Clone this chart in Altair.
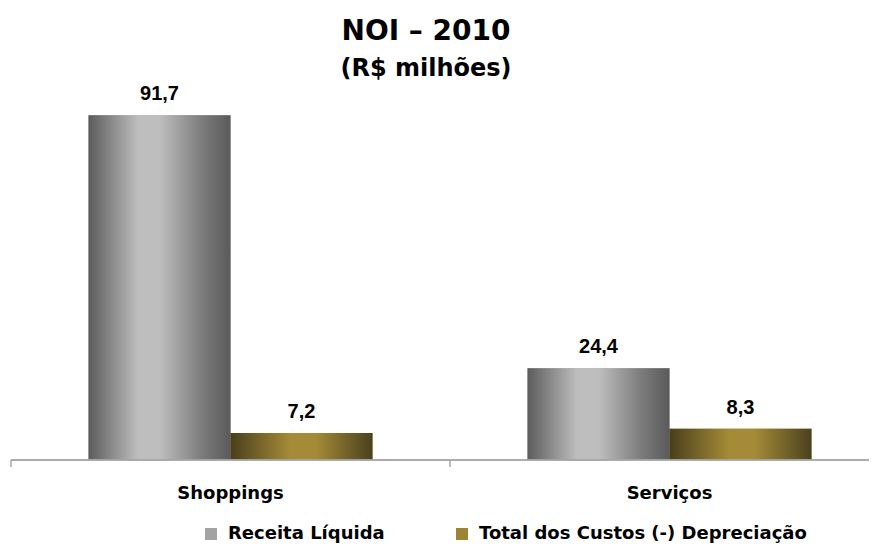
import altair as alt
import pandas as pd

categories = ["Shoppings", "Serviços"]
series = ["Receita Líquida", "Total dos Custos (-) Depreciação"]
receita = [91.7, 24.4]
custos = [7.2, 8.3]
labels_receita = ["91,7", "24,4"]
labels_custos = ["7,2", "8,3"]

rows = []
for i, c in enumerate(categories):
    rows.append({"cat": c, "serie": series[0], "valor": receita[i], "rotulo": labels_receita[i]})
    rows.append({"cat": c, "serie": series[1], "valor": custos[i], "rotulo": labels_custos[i]})
df = pd.DataFrame(rows)
df_cat = pd.DataFrame({"cat": categories})

FONT = "DejaVu Sans"
AXIS_GRAY = "#a6a6a6"

xscale = alt.Scale(domain=categories, paddingInner=0, paddingOuter=0, range=[0, 878])
xaxis = alt.Axis(labelAngle=0, domain=False, ticks=False, tickSize=0, labelPadding=24,
                 labelFont=FONT, labelFontSize=18, labelFontWeight="bold", labelColor="#000000")

x = alt.X("cat:N", sort=categories, title=None, scale=xscale, axis=xaxis)
xo = alt.XOffset("serie:N", sort=series,
                 scale=alt.Scale(domain=series, paddingInner=0, paddingOuter=0.546))
y = alt.Y("valor:Q", scale=alt.Scale(domain=[0, 100]), axis=None)

base = alt.Chart(df).encode(x=x, xOffset=xo, y=y)

legend_bars = base.mark_bar().encode(
    color=alt.Color(
        "serie:N", sort=series,
        scale=alt.Scale(domain=series, range=["#a3a3a3", "#9c8435"]),
        legend=alt.Legend(orient="none", legendX=191, legendY=441, direction="horizontal",
                          title=None, symbolType="square", symbolSize=144, symbolStrokeWidth=0,
                          labelOffset=8, labelFont=FONT, labelFontSize=18, labelFontWeight="bold",
                          labelColor="#000000", columnPadding=68, labelLimit=400),
    )
)

grad_gray = alt.Gradient(
    gradient="linear", x1=0, x2=1, y1=0, y2=0,
    stops=[alt.GradientStop(offset=0, color="#5c5c5c"),
           alt.GradientStop(offset=0.35, color="#bebebe"),
           alt.GradientStop(offset=0.5, color="#bebebe"),
           alt.GradientStop(offset=0.8, color="#7c7c7c"),
           alt.GradientStop(offset=1, color="#5a5a5a")],
)
grad_gold = alt.Gradient(
    gradient="linear", x1=0, x2=1, y1=0, y2=0,
    stops=[alt.GradientStop(offset=0, color="#4a3f1c"),
           alt.GradientStop(offset=0.42, color="#a58b37"),
           alt.GradientStop(offset=0.6, color="#a58b37"),
           alt.GradientStop(offset=1, color="#4a411d")],
)

g1 = base.transform_filter(alt.datum.serie == series[0]).mark_bar(fill=grad_gray)
g2 = base.transform_filter(alt.datum.serie == series[1]).mark_bar(fill=grad_gold)

labels = base.mark_text(dy=-15, baseline="alphabetic", font="Liberation Sans", fontWeight="bold",
                        fontSize=20, color="#000000").encode(text="rotulo:N")

# category axis baseline and band-boundary ticks
baseline = alt.Chart(df_cat).mark_rule(color=AXIS_GRAY, strokeWidth=1.5).encode(y=alt.datum(0))
ticks = alt.Chart(df_cat).mark_rule(color=AXIS_GRAY, strokeWidth=1.5, y2Offset=7).encode(
    x=alt.X("cat:N", sort=categories, title=None, scale=xscale, axis=xaxis, bandPosition=0),
    y=alt.datum(0), y2=alt.datum(0),
)

chart = alt.layer(legend_bars, g1, g2, labels, baseline, ticks).properties(
    width=858, height=376,
    title=alt.Title("NOI – 2010", subtitle="(R$ milhões)", fontSize=28, subtitleFontSize=24,
                    font=FONT, subtitleFont=FONT, fontWeight="bold", subtitleFontWeight="bold",
                    color="#000000", subtitleColor="#000000", anchor="middle", dx=-14,
                    offset=3, subtitlePadding=11),
    autosize=alt.AutoSizeParams(type="none"),
    padding={"left": 3, "top": 76, "right": 0, "bottom": 86},
).configure_view(stroke=None)

chart.save("out.html", embed_options={"renderer": "svg", "actions": False})
